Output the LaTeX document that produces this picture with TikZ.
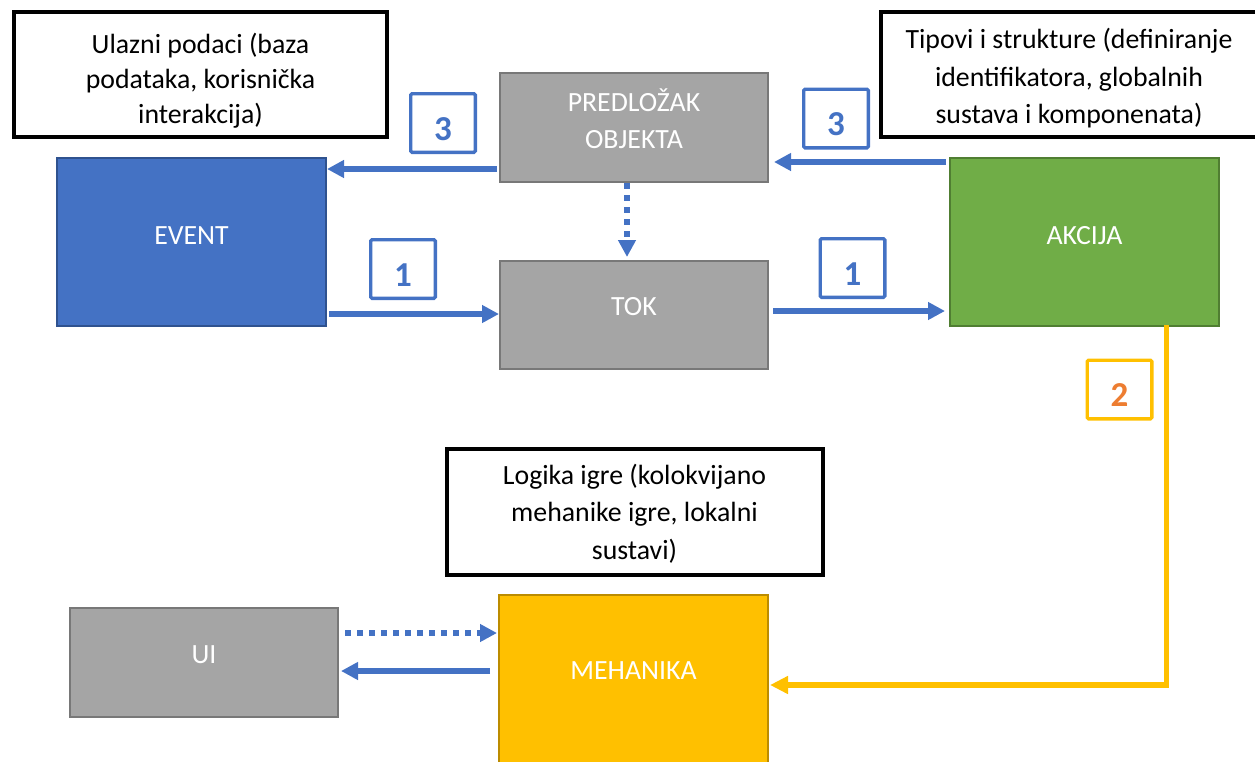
\documentclass[tikz,border=0pt]{standalone}
\usepackage{fontspec}
\setmainfont{Carlito}
\usetikzlibrary{arrows.meta,calc}
\definecolor{cblue}{HTML}{4472C4}
\definecolor{cbluedk}{HTML}{2F528F}
\definecolor{cgray}{HTML}{A5A5A5}
\definecolor{cgraydk}{HTML}{787878}
\definecolor{cgreen}{HTML}{70AD47}
\definecolor{cgreendk}{HTML}{507E32}
\definecolor{cyel}{HTML}{FFC000}
\definecolor{cyeldk}{HTML}{BC8C00}
\definecolor{corange}{HTML}{ED7D31}
\begin{document}
\begin{tikzpicture}[x=1pt,y=-1pt,
  blk/.style={draw, line width=2pt, inner sep=0pt},
  graybox/.style={blk, fill=cgray, draw=cgraydk, minimum width=268pt, minimum height=108pt},
  txt/.style={text=white, font=\fontsize{27.8}{37}\selectfont, align=center, inner sep=0pt},
  notebox/.style={draw=black, line width=4pt, fill=white, inner sep=0pt},
  notetxt/.style={text=black, align=center, inner sep=0pt, font=\fontsize{27.8}{37.5}\selectfont},
  num/.style={draw=cblue, line width=3.3pt, rounded corners=1.5pt, fill=white, inner sep=0pt,
    minimum width=64.7pt, minimum height=58.7pt, text height=34pt, text depth=0pt,
    font=\fontsize{35}{40}\selectfont\bfseries, text=cblue},
  arr/.style={draw=cblue, line width=6pt, -{Triangle[length=17pt,width=17pt]}},
  dotarr/.style={arr, dash pattern=on 6pt off 6pt},
  yarr/.style={draw=cyel, line width=5.3pt, line join=miter, -{Triangle[length=18pt,width=17pt]}}]
\useasboundingbox (0,0) rectangle (1255,761);

% main blocks
\node[blk, fill=cblue, draw=cbluedk, minimum width=269pt, minimum height=168pt] (ev) at (191.5,242) {};
\node[blk, fill=cgreen, draw=cgreendk, minimum width=269pt, minimum height=168pt] (ak) at (1084.5,242) {};
\node[graybox, minimum height=109pt] (pred) at (634,127.5) {};
\node[graybox] (tok) at (634,315) {};
\node[graybox, minimum height=109pt] (ui) at (204,662.5) {};
\node[blk, fill=cyel, draw=cyeldk, minimum width=269pt, minimum height=200pt] (meh) at (633.5,695) {};

\node[txt] (evt) at (191.5,236) {EVENT};
\node[txt] (akt) at (1084.5,236) {AKCIJA};
\node[txt] (predt) at (634,118.5) {PREDLOŽAK\\OBJEKTA};
\node[txt] (tokt) at (634,307) {TOK};
\node[txt] (uit) at (204,655) {UI};
\node[txt] (meht) at (633.5,671) {MEHANIKA};

% notes
\node[notebox, minimum width=373pt, minimum height=125pt] (nul) at (200.5,74.5) {};
\node[notetxt, font=\fontsize{27.8}{35}\selectfont] (nult) at (200.5,81) {Ulazni podaci (baza\\podataka, korisnička\\interakcija)};
\node[notebox, minimum width=376pt, minimum height=125pt] (ntip) at (1069,74.5) {};
\node[notetxt] (ntipt) at (1069,78.5) {Tipovi i strukture (definiranje\\identifikatora, globalnih\\sustava i komponenata)};
\node[notebox, minimum width=376pt, minimum height=126pt] (nlog) at (635,512) {};
\node[notetxt] (nlogt) at (634.5,513.5) {Logika igre (kolokvijano\\mehanike igre, lokalni\\sustavi)};

% connectors
\draw[arr] ($(pred.west)+(-2,41.5)$) coordinate (a1) -- (a1 -| ev.east);
\draw[arr] ($(ak.west)+(-3,-80)$) coordinate (a2) -- ($(a2 -| pred.east)+(5,0)$);
\draw[arr] ($(ev.east)+(2,72)$) coordinate (a3) -- (a3 -| tok.west);
\draw[arr] ($(tok.east)+(4,-4)$) coordinate (a4) -- ($(a4 -| ak.west)+(-4,0)$);
\draw[dotarr] ($(pred.south)+(-7,0)$) coordinate (a5) -- ($(a5 |- tok.north)+(0,-3)$);
\draw[dotarr] ($(ui.east)+(6,-29.5)$) coordinate (a6) -- ($(a6 -| meh.west)+(-1,0)$);
\draw[arr] ($(meh.west)+(-8,-24)$) coordinate (a7) -- ($(a7 -| ui.east)+(2,0)$);
\draw[yarr] ($(ak.south)+(82,-2)$) coordinate (a8) |- ($(meh.east)+(1,-10)$);

% number labels
\node[num] (n3l) at (443,123) {3};
\node[num] (n1l) at (403,269) {1};
\node[num] (n1r) at (852.5,268) {1};
\node[num] (n3r) at (836,118.5) {3};
\node[num, draw=cyel, text=corange] (n2) at (1119.5,389.5) {2};
\end{tikzpicture}
\end{document}
